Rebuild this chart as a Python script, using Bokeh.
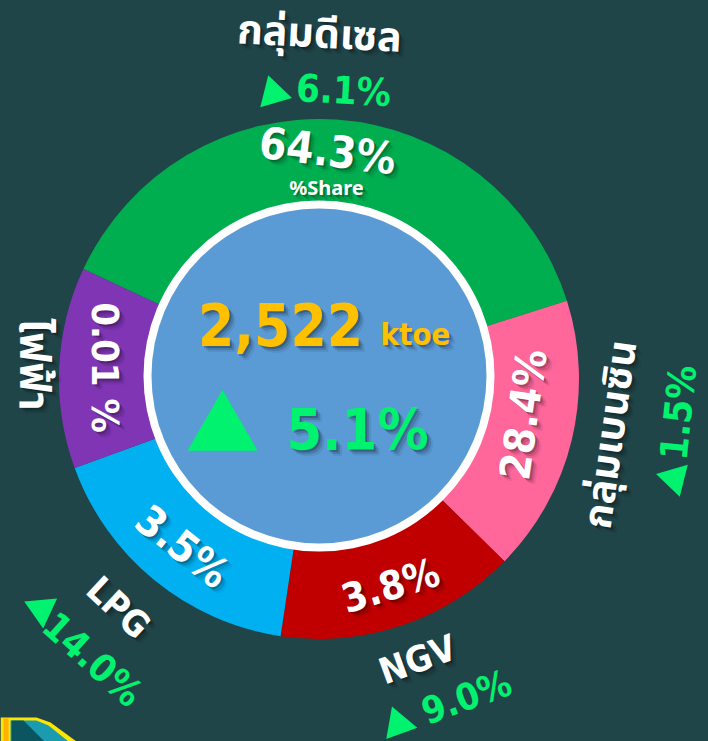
from bokeh.plotting import figure
from bokeh.embed import file_html
from bokeh.resources import INLINE
from bokeh.core.properties import value
import math

categories = ["กลุ่มดีเซล", "กลุ่มเบนซิน", "NGV", "LPG", "ไฟฟ้า"]
shares = ["64.3%", "28.4%", "3.8%", "3.5%", "0.01 %"]
changes = ["6.1%", "1.5%", "9.0%", "14.0%"]
arc_spans = [137.5, 62.0, 54.0, 61.5, 45.0]   # drawn slice sizes as seen in the picture (deg)
colors = ["#00ae50", "#ff6699", "#c00000", "#00b0f0", "#8035b5"]
total_label = "2,522"
unit_label = "ktoe"
total_change = "5.1%"

BG = "#204548"; GREEN = "#00f26e"
CX, CY = 318.5, 378.5
W, H = 708, 741
p = figure(width=W, height=H, x_range=(-CX, W - CX), y_range=(CY - H, CY),
           output_backend="svg", toolbar_location=None, background_fill_color=BG,
           border_fill_color=BG, min_border=0, outline_line_color=None)
p.axis.visible = False
p.grid.visible = False

start = 155.0
for span, c in zip(arc_spans, colors):
    end = start - span
    p.annular_wedge(0, 0, inner_radius=165, outer_radius=260, start_angle=math.radians(end),
                    end_angle=math.radians(start), fill_color=c, line_color=None)
    start = end
p.circle(0, 3, radius=175.5, fill_color="#ffffff", line_color=None)
p.circle(0, 3, radius=167.5, fill_color="#5b9bd5", line_color=None)

# corner decoration cut off by the picture's edge
p.patch([-CX, -CX + 36, -CX + 50, -CX + 76, -CX], [CY - 717, CY - 717, CY - 722, CY - 741, CY - 741],
        fill_color="#ffe600", line_color=None)
p.patch([-CX + 3, -CX + 8, -CX + 8, -CX + 3], [CY - 718, CY - 718, CY - 741, CY - 741],
        fill_color="#ffb000", line_color=None)
p.patch([-CX + 10, -CX + 36, -CX + 48, -CX + 68, -CX + 10], [CY - 720, CY - 720, CY - 725, CY - 741, CY - 741],
        fill_color="#1b9bb0", line_color=None)
p.patch([-CX + 11, -CX + 23, -CX + 44, -CX + 11], [CY - 720, CY - 720, CY - 741, CY - 741],
        fill_color="#0b5560", line_color=None)

COND = "DejaVu Sans Condensed"

def txt(x, y, s, size, color="#ffffff", deg=0, shadow="#000000", font=COND, bold="bold"):
    x -= CX; y = CY - y
    if shadow:
        for dx, a in ((2, .22), (4, .14), (6, .07)):
            p.text([x + dx], [y - dx], text=[s], text_font=value(font), text_font_size=size,
                   text_font_style=bold, text_color=shadow, text_alpha=a, angle=math.radians(deg),
                   text_align="center", text_baseline="middle")
    p.text([x], [y], text=[s], text_font=value(font), text_font_size=size, text_font_style=bold,
           text_color=color, angle=math.radians(deg), text_align="center", text_baseline="middle")

def tri(x, y, size, deg):
    p.scatter([x - CX], [CY - y], marker="triangle", size=size, fill_color=GREEN, line_color=None,
              angle=math.radians(deg))

# slice labels
txt(327, 150, shares[0], "44px", deg=-7)
txt(326, 187, "%Share", "20px", font="Noto Sans")
txt(523, 414, shares[1], "42px", deg=82)
txt(390, 585, shares[2], "40px", deg=17)
txt(182, 546, shares[3], "42px", deg=-38)
txt(104, 367, shares[4], "38px", deg=-90)
# outside names
txt(319, 34, categories[0], "41px", deg=-3, font="Noto Sans Thai")
txt(611, 434, categories[1], "40px", deg=82, font="Noto Sans Thai")
txt(417, 659, categories[2], "36px", deg=20)
txt(118, 607, categories[3], "36px", deg=-43)
txt(32, 364, categories[4], "42px", deg=-90, font="Noto Sans Thai")
# outside changes
txt(343, 90, changes[0], "38px", color=GREEN, deg=-3, shadow=None)
txt(678, 412, changes[1], "38px", color=GREEN, deg=84, shadow=None)
txt(466, 697, changes[2], "37px", color=GREEN, deg=20, shadow=None)
txt(92, 659, changes[3], "38px", color=GREEN, deg=-42, shadow=None)
tri(273, 93, 33, 16)
tri(674, 478, 33, 76)
tri(398, 724, 33, 20)
tri(41, 609, 33, 185)
# centre
txt(280, 324, total_label, "58px", color="#ffc000")
txt(415, 333, unit_label, "31px", color="#ffc000")
tri(222, 430, 70, 0)
txt(357, 429, total_change, "57px", color=GREEN)

html = file_html(p, INLINE)
html = html.replace("</head>", f"<style>html,body{{background:{BG};overflow:hidden}}</style></head>")
open("out.html", "w").write(html)
